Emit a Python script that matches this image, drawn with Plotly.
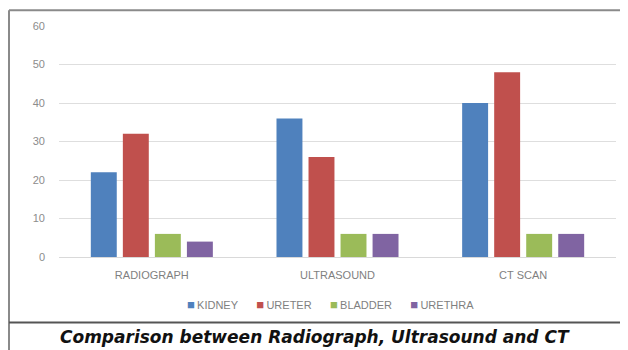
import plotly.graph_objects as go

categories = ["RADIOGRAPH", "ULTRASOUND", "CT SCAN"]
kidney = [22, 36, 40]
ureter = [32, 26, 48]
bladder = [6, 6, 6]
urethra = [4, 6, 6]
series_names = ["KIDNEY", "URETER", "BLADDER", "URETHRA"]
colors = ["#4F81BD", "#C0504D", "#9BBB59", "#8064A2"]
caption = "Comparison between Radiograph, Ultrasound and CT"

# page body has an 8px margin; figure drawn at (8, 8) on screen
O = 8
SW, SH = 628, 350
W, H = SW - O, SH - O
# screen-coordinate plot box
PL, PR, PT, PB = 59, 616, 24, 257
L, R, T, B = PL - O, SW - PR, PT - O, SH - PB
pw, ph = W - L - R, H - T - B

def px(x):
    return (x - O - L) / pw

def py(y):
    return 1 - (y - O - T) / ph

fig = go.Figure()
for name, vals, col in zip(series_names, [kidney, ureter, bladder, urethra], colors):
    fig.add_trace(go.Bar(x=categories, y=vals, name=name, marker_color=col,
                         marker_line_width=0, showlegend=False))

# compact Excel-style legend built from the series names and colours
legend_text = "&nbsp;&nbsp;&nbsp;&nbsp;&nbsp;&nbsp;".join(
    f"<span style='color:{c};font-size:13px'>■</span>&#8201;{n}"
    for n, c in zip(series_names, colors)
)

fig.update_layout(
    width=W, height=H,
    margin=dict(l=L, r=R, t=T, b=B),
    paper_bgcolor="white", plot_bgcolor="white",
    barmode="group", bargap=0.31, bargroupgap=0.19,
    font=dict(family="Liberation Sans, Arial", size=11, color="#7f7f7f"),
    showlegend=False,
    xaxis=dict(showline=True, linecolor="#d9d9d9", linewidth=1, ticks="",
               tickfont=dict(size=11, color="#7f7f7f"), ticklabelstandoff=8),
    yaxis=dict(range=[0, 60], dtick=10, showgrid=True, gridcolor="#dedede",
               zeroline=False, showline=False, ticks="", ticklen=0,
               tickfont=dict(size=11, color="#8c8c8c"), ticklabelstandoff=13),
    shapes=[
        dict(type="line", xref="paper", yref="paper", x0=px(9), x1=px(640), y0=py(8), y1=py(8),
             line=dict(color="#8a8a8a", width=2)),
        dict(type="line", xref="paper", yref="paper", x0=px(9), x1=px(9), y0=py(8), y1=py(360),
             line=dict(color="#8a8a8a", width=2)),
        dict(type="line", xref="paper", yref="paper", x0=px(9), x1=px(640), y0=py(323), y1=py(323),
             line=dict(color="#555555", width=2)),
    ],
    annotations=[
        dict(text=legend_text, xref="paper", yref="paper",
             x=px(330), y=py(305), xanchor="center", yanchor="middle", showarrow=False,
             font=dict(family="Liberation Sans, Arial", size=11, color="#7f7f7f")),
        dict(text="<b><i>" + caption + "</i></b>", xref="paper", yref="paper",
             x=px(315), y=py(338), xanchor="center", yanchor="middle", showarrow=False,
             font=dict(family="DejaVu Sans", size=17, color="#111111")),
    ],
)

fig.write_html("out.html")
